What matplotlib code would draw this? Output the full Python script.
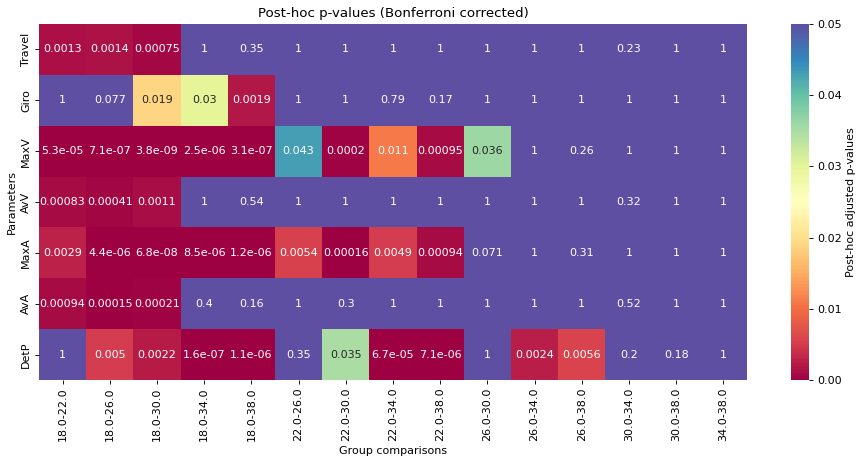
import matplotlib
matplotlib.use("Agg")
import matplotlib.pyplot as plt
import seaborn as sns
import numpy as np
import pandas as pd

# comparisons between groups
comparisons = ['18.0-22.0', '18.0-26.0', '18.0-30.0', '18.0-34.0', '18.0-38.0',
               '22.0-26.0', '22.0-30.0', '22.0-34.0', '22.0-38.0', '26.0-30.0',
               '26.0-34.0', '26.0-38.0', '30.0-34.0', '30.0-38.0', '34.0-38.0']
parameters = ['Travel', 'Giro', 'MaxV', 'AvV', 'MaxA', 'AvA', 'DetP']

travel = [0.0013, 0.0014, 0.00075, 1, 0.35, 1, 1, 1, 1, 1, 1, 1, 0.23, 1, 1]
giro = [1, 0.077, 0.019, 0.03, 0.0019, 1, 1, 0.79, 0.17, 1, 1, 1, 1, 1, 1]
maxv = [5.3e-05, 7.1e-07, 3.8e-09, 2.5e-06, 3.1e-07, 0.043, 0.0002, 0.011, 0.00095,
        0.036, 1, 0.26, 1, 1, 1]
avv = [0.00083, 0.00041, 0.0011, 1, 0.54, 1, 1, 1, 1, 1, 1, 1, 0.32, 1, 1]
maxa = [0.0029, 4.4e-06, 6.8e-08, 8.5e-06, 1.2e-06, 0.0054, 0.00016, 0.0049, 0.00094,
        0.071, 1, 0.31, 1, 1, 1]
ava = [0.00094, 0.00015, 0.00021, 0.4, 0.16, 1, 0.3, 1, 1, 1, 1, 1, 0.52, 1, 1]
detp = [1, 0.005, 0.0022, 1.6e-07, 1.1e-06, 0.35, 0.035, 6.7e-05, 7.1e-06, 1,
        0.0024, 0.0056, 0.2, 0.18, 1]

df = pd.DataFrame([travel, giro, maxv, avv, maxa, ava, detp],
                  index=parameters, columns=comparisons)

# bigger figure at lower dpi so the text comes out smaller
fig = plt.figure(figsize=(859 / 80, 460 / 80), dpi=80)
ax = fig.add_axes([0.0454, 0.1739, 0.8242, 0.7739])
cax = fig.add_axes([0.9208, 0.1739, 0.021, 0.7739])

sns.heatmap(df, ax=ax, cbar_ax=cax, cmap='Spectral', vmin=0, vmax=0.05,
            annot=True, fmt='.2g',
            cbar_kws={'label': 'Post-hoc adjusted p-values'})

ax.set_title('Post-hoc p-values (Bonferroni corrected)')
ax.set_xlabel('Group comparisons')
ax.set_ylabel('Parameters')
ax.tick_params(axis='x', rotation=90)
cax.yaxis.set_major_formatter(matplotlib.ticker.FormatStrFormatter('%.2f'))

fig.savefig('out.png', dpi=80)
